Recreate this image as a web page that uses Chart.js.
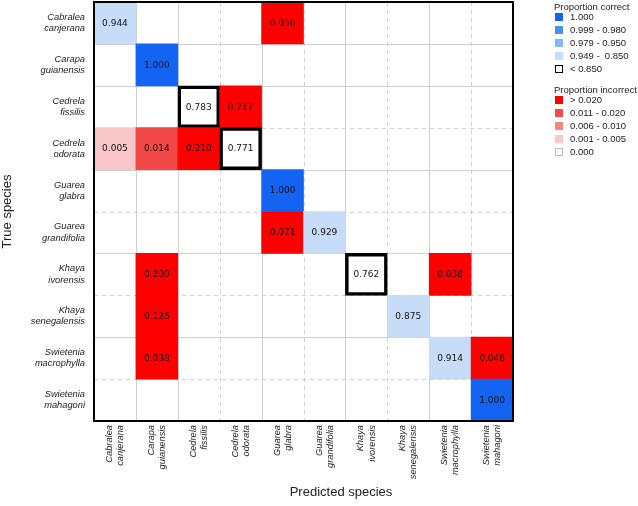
<!DOCTYPE html>
<html><head><meta charset="utf-8">
<script src="https://cdn.jsdelivr.net/npm/chart.js@4.4.0/dist/chart.umd.min.js"></script>
<style>
html,body{margin:0;padding:0;background:#fff;}
#wrap{position:relative;width:638px;height:506px;overflow:hidden;}
#c{position:absolute;left:0;top:0;}
.lg{position:absolute;font-family:"Liberation Sans",Arial,sans-serif;font-size:9.5px;color:#222;white-space:pre;line-height:1;transform:translateY(-50%);}
.sq{position:absolute;width:8px;height:8px;box-sizing:border-box;transform:translateY(-50%);}
#xt{position:absolute;left:241px;width:200px;top:484px;text-align:center;font-family:"Liberation Sans",Arial,sans-serif;font-size:13px;color:#222;}
</style></head>
<body>
<div id="wrap">
<canvas id="c" width="638" height="506"></canvas>
<div id="xt">Predicted species</div>
</div>
<script>
// Species (categories, same order on both axes)
const genus   = ['Cabralea','Carapa','Cedrela','Cedrela','Guarea','Guarea','Khaya','Khaya','Swietenia','Swietenia'];
const epithet = ['canjerana','guianensis','fissilis','odorata','glabra','grandifolia','ivorensis','senegalensis','macrophylla','mahagoni'];
const species = genus.map((g,i)=>g+' '+epithet[i]);

// Non-zero cells of the confusion matrix (row = true, col = predicted)
const cellRows   = [0,0,1,2,2,3,3,3,3,4,5,5,6,6,6,7,7,8,8,8,9];
const cellCols   = [0,4,1,2,3,0,1,2,3,4,4,5,1,6,8,1,7,1,8,9,9];
const cellValues = [0.944,0.056,1.000,0.783,0.217,0.005,0.014,0.210,0.771,1.000,0.071,0.929,0.200,0.762,0.038,0.125,0.875,0.038,0.914,0.048,1.000];

// Legend
const correctLabels   = ['1.000','0.999 - 0.980','0.979 - 0.950','0.949 -  0.850','< 0.850'];
const correctColors   = ['#1464f4','#4a8ff0','#85b6f6','#c6dcf8','#ffffff'];
const incorrectLabels = ['> 0.020','0.011 - 0.020','0.006 - 0.010','0.001 - 0.005','0.000'];
const incorrectColors = ['#ff0000','#f24848','#f58484','#f9c6c9','#ffffff'];

function cellColor(r,c,v){
  if (r===c){
    if (v>=0.9995) return correctColors[0];
    if (v>=0.98) return correctColors[1];
    if (v>=0.95) return correctColors[2];
    if (v>=0.85) return correctColors[3];
    return correctColors[4];
  }
  if (v>0.020) return incorrectColors[0];
  if (v>=0.011) return incorrectColors[1];
  if (v>=0.006) return incorrectColors[2];
  if (v>=0.001) return incorrectColors[3];
  return incorrectColors[4];
}
const boxed = (r,c,v)=> r===c && v<0.85;

// HTML legend
(function(){
  const wrap=document.getElementById('wrap');
  function add(cls,style,text){const d=document.createElement('div');d.className=cls;Object.assign(d.style,style);if(text!==undefined)d.textContent=text;wrap.appendChild(d);}
  function group(title,y0,labels,colors,lastBorder){
    add('lg',{left:'554px',top:y0+'px'},title);
    labels.forEach((l,i)=>{
      const y=y0+10.8+i*12.9;
      const last=i===labels.length-1;
      add('sq',{left:'555px',top:y+'px',background:colors[i],border:last?lastBorder:'none'});
      add('lg',{left:'570px',top:y+'px'},l);
    });
  }
  group('Proportion correct',6.5,correctLabels,correctColors,'1.5px solid #000');
  group('Proportion incorrect',89.5,incorrectLabels,incorrectColors,'1px solid #bbb');
})();

const gridPlugin = {
  id:'cellgrid',
  beforeDatasetsDraw(chart){
    const {ctx, chartArea:a, scales:{x,y}} = chart;
    ctx.save();
    ctx.strokeStyle='#cfcfcf'; ctx.lineWidth=1;
    for (let i=1;i<species.length;i++){
      const dashed = genus[i]===genus[i-1];
      ctx.setLineDash(dashed?[4,4]:[]);
      const px = Math.round((x.getPixelForValue(i-1)+x.getPixelForValue(i))/2)+0.5;
      ctx.beginPath(); ctx.moveTo(px,a.top); ctx.lineTo(px,a.bottom); ctx.stroke();
      const py = Math.round(y.getPixelForValue(i))+0.5;
      ctx.beginPath(); ctx.moveTo(a.left,py); ctx.lineTo(a.right,py); ctx.stroke();
    }
    ctx.restore();
  },
  afterDatasetsDraw(chart){
    const {ctx, chartArea:a, scales:{x,y}} = chart;
    ctx.save();
    ctx.font='9px "DejaVu Sans"'; ctx.fillStyle='#111'; ctx.textAlign='center'; ctx.textBaseline='middle';
    cellValues.forEach((v,k)=>{
      ctx.fillText(v.toFixed(3), x.getPixelForValue(cellCols[k]), y.getPixelForValue(cellRows[k]+0.5)+0.5);
    });
    ctx.strokeStyle='#000'; ctx.lineWidth=2; ctx.setLineDash([]);
    ctx.strokeRect(a.left, a.top, a.right-a.left, a.bottom-a.top);
    ctx.restore();
  }
};

new Chart(document.getElementById('c'), {
  type:'bar',
  data:{
    labels: species,
    datasets:[{
      data: cellValues.map((v,k)=>({x: species[cellCols[k]], y:[cellRows[k], cellRows[k]+1]})),
      backgroundColor: ctx=>{const k=ctx.dataIndex;return cellColor(cellRows[k],cellCols[k],cellValues[k]);},
      borderColor:'#000',
      borderWidth: ctx=>{const k=ctx.dataIndex;return boxed(cellRows[k],cellCols[k],cellValues[k])?3.5:0;},
      borderSkipped:false,
      barPercentage:1, categoryPercentage:1, grouped:false
    }]
  },
  options:{
    responsive:false, animation:false, devicePixelRatio:1,
    layout:{padding:{left:0,top:2,right:125,bottom:0}},
    plugins:{legend:{display:false}, tooltip:{enabled:false}},
    scales:{
      x:{
        type:'category', offset:true,
        grid:{display:false, drawTicks:false}, border:{display:false},
        ticks:{autoSkip:false, minRotation:90, maxRotation:90, padding:4, labelOffset:-5.5, color:'#222',
          font:{family:'"Liberation Sans", Arial, sans-serif', size:9.3, style:'italic', lineHeight:1.2},
          callback:(v,i)=>[genus[i], epithet[i]]},
        afterFit:s=>{s.height=85; s.paddingLeft=0; s.paddingRight=0;}
      },
      y:{
        type:'linear', min:0, max:10, reverse:true,
        grid:{display:false, drawTicks:false}, border:{display:false},
        afterBuildTicks:s=>{s.ticks=species.map((_,i)=>({value:i+0.5}));},
        ticks:{padding:9, color:'#222',
          font:{family:'"Liberation Sans", Arial, sans-serif', size:9.3, style:'italic', lineHeight:1.2},
          callback:v=>{const i=Math.floor(v);return [genus[i], epithet[i]];}},
        title:{display:true, text:'True species', color:'#222', padding:0,
          font:{family:'"Liberation Sans", Arial, sans-serif', size:13}},
        afterFit:s=>{s.width=94; s.paddingTop=0; s.paddingBottom=0;}
      }
    }
  },
  plugins:[gridPlugin]
});
</script>
</body></html>
